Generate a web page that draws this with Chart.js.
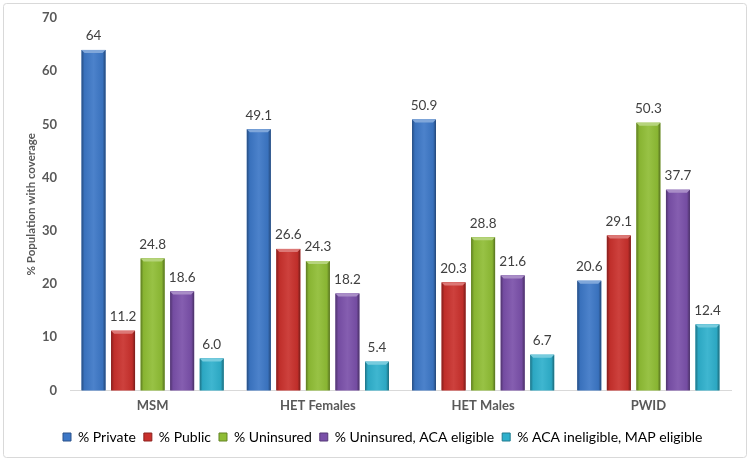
<!DOCTYPE html>
<html>
<head>
<meta charset="utf-8">
<script src="https://cdn.jsdelivr.net/npm/chart.js@4/dist/chart.umd.min.js"></script>
<style>
html,body{margin:0;padding:0;background:#fff;}
#wrap{position:relative;width:750px;height:462px;}
</style>
</head>
<body>
<div id="wrap"><canvas id="c" width="750" height="462"></canvas></div>
<script>
const categories = ["MSM", "HET Females", "HET Males", "PWID"];
const seriesNames = ["% Private", "% Public", "% Uninsured", "% Uninsured, ACA eligible", "% ACA ineligible, MAP eligible"];
const privateVals = [64, 49.1, 50.9, 20.6];
const publicVals = [11.2, 26.6, 20.3, 29.1];
const uninsuredVals = [24.8, 24.3, 28.8, 50.3];
const acaEligibleVals = [18.6, 18.2, 21.6, 37.7];
const mapEligibleVals = [6.0, 5.4, 6.7, 12.4];
const privateLabels = ["64", "49.1", "50.9", "20.6"];
const publicLabels = ["11.2", "26.6", "20.3", "29.1"];
const uninsuredLabels = ["24.8", "24.3", "28.8", "50.3"];
const acaEligibleLabels = ["18.6", "18.2", "21.6", "37.7"];
const mapEligibleLabels = ["6.0", "5.4", "6.7", "12.4"];
const yTicks = [0, 10, 20, 30, 40, 50, 60, 70];
const colors = ["#3c77c6", "#c9302c", "#8fbd35", "#7a50a9", "#2eb0cc"];

const FONT = "Lato, 'Open Sans', sans-serif";

function shade(hex, amt) {
  const n = parseInt(hex.slice(1), 16);
  let r = (n >> 16) & 255, g = (n >> 8) & 255, b = n & 255;
  const f = c => Math.max(0, Math.min(255, Math.round(amt < 0 ? c * (1 + amt) : c + (255 - c) * amt)));
  return "rgb(" + f(r) + "," + f(g) + "," + f(b) + ")";
}

const allVals = [privateVals, publicVals, uninsuredVals, acaEligibleVals, mapEligibleVals];
const allLabels = [privateLabels, publicLabels, uninsuredLabels, acaEligibleLabels, mapEligibleLabels];

const datasets = seriesNames.map((name, i) => ({
  label: name,
  data: allVals[i],
  valueLabels: allLabels[i],
  backgroundColor: colors[i],
  borderWidth: 0,
  barPercentage: 0.81,
  categoryPercentage: 0.894
}));

const framePlugin = {
  id: "frame",
  beforeDraw(chart) {
    const ctx = chart.ctx;
    ctx.save();
    ctx.fillStyle = "#ffffff";
    ctx.fillRect(0, 0, chart.width, chart.height);
    ctx.strokeStyle = "#d9d9d9";
    ctx.lineWidth = 1;
    ctx.beginPath();
    ctx.roundRect(3.5, 3.5, chart.width - 7, chart.height - 8, 3);
    ctx.stroke();
    ctx.restore();
  }
};

const bevelPlugin = {
  id: "bevel",
  afterDatasetsDraw(chart) {
    const ctx = chart.ctx;
    chart.data.datasets.forEach((ds, di) => {
      const meta = chart.getDatasetMeta(di);
      meta.data.forEach((bar, j) => {
        const p = bar.getProps(["x", "y", "base", "width"], true);
        const l = p.x - p.width / 2, r = p.x + p.width / 2, t = p.y, b = p.base;
        const base = colors[di];
        ctx.save();
        const g = ctx.createLinearGradient(l, 0, r, 0);
        g.addColorStop(0, shade(base, -0.35));
        g.addColorStop(0.12, shade(base, -0.05));
        g.addColorStop(0.5, shade(base, 0.08));
        g.addColorStop(0.88, shade(base, -0.05));
        g.addColorStop(1, shade(base, -0.4));
        ctx.fillStyle = g;
        ctx.fillRect(l, t, r - l, b - t);
        const bv = 3;
        ctx.fillStyle = shade(base, 0.35);
        ctx.beginPath();
        ctx.moveTo(l, t);
        ctx.lineTo(r, t);
        ctx.lineTo(r - bv, t + bv);
        ctx.lineTo(l + bv, t + bv);
        ctx.closePath();
        ctx.fill();
        ctx.restore();
        ctx.save();
        ctx.font = "13.5px " + FONT;
        ctx.fillStyle = "#404040";
        ctx.textAlign = "center";
        ctx.textBaseline = "middle";
        ctx.fillText(ds.valueLabels[j], p.x, t - 14);
        ctx.restore();
      });
    });
  }
};

const legendShift = {
  id: "legendShift",
  afterUpdate(chart) {
    const lg = chart.legend;
    if (!lg) return;
    const pad = lg.options.labels.padding;
    const dx = (63 - pad) - lg.left;
    lg.left += dx;
    lg.right += dx;
    lg.adjustHitBoxes();
  }
};

new Chart(document.getElementById("c"), {
  type: "bar",
  data: { labels: categories, datasets: datasets },
  options: {
    responsive: false,
    animation: false,
    events: [],
    layout: { padding: { left: 24, right: 19, top: 18, bottom: 8 } },
    scales: {
      x: {
        grid: { display: false, drawTicks: false },
        border: { display: true, color: "#d9d9d9", width: 1 },
        ticks: { color: "#595959", font: { family: FONT, size: 13, weight: "bold" }, padding: 8 }
      },
      y: {
        min: 0,
        max: 70,
        afterBuildTicks(axis) { axis.ticks = yTicks.map(v => ({ value: v })); },
        afterFit(axis) { axis.width = 46; axis.paddingTop = 0; axis.paddingBottom = 0; },
        grid: { display: false, drawTicks: false },
        border: { display: false },
        ticks: { color: "#595959", font: { family: FONT, size: 13, weight: "bold" }, padding: 13 },
        title: { display: true, text: "% Population with coverage", color: "#595959", font: { family: FONT, size: 11.5, weight: "bold" }, padding: { top: 0, bottom: 0 } }
      }
    },
    plugins: {
      legend: {
        position: "bottom",
        align: "start",
        labels: {
          boxWidth: 8,
          boxHeight: 8,
          padding: 8,
          color: "#404040",
          font: { family: FONT, size: 14 },
          generateLabels(chart) {
            return chart.data.datasets.map((ds, i) => ({
              text: ds.label,
              fillStyle: colors[i],
              strokeStyle: shade(colors[i], -0.3),
              lineWidth: 1,
              datasetIndex: i,
              hidden: false
            }));
          }
        }
      },
      tooltip: { enabled: false }
    }
  },
  plugins: [framePlugin, bevelPlugin, legendShift]
});
</script>
</body>
</html>
